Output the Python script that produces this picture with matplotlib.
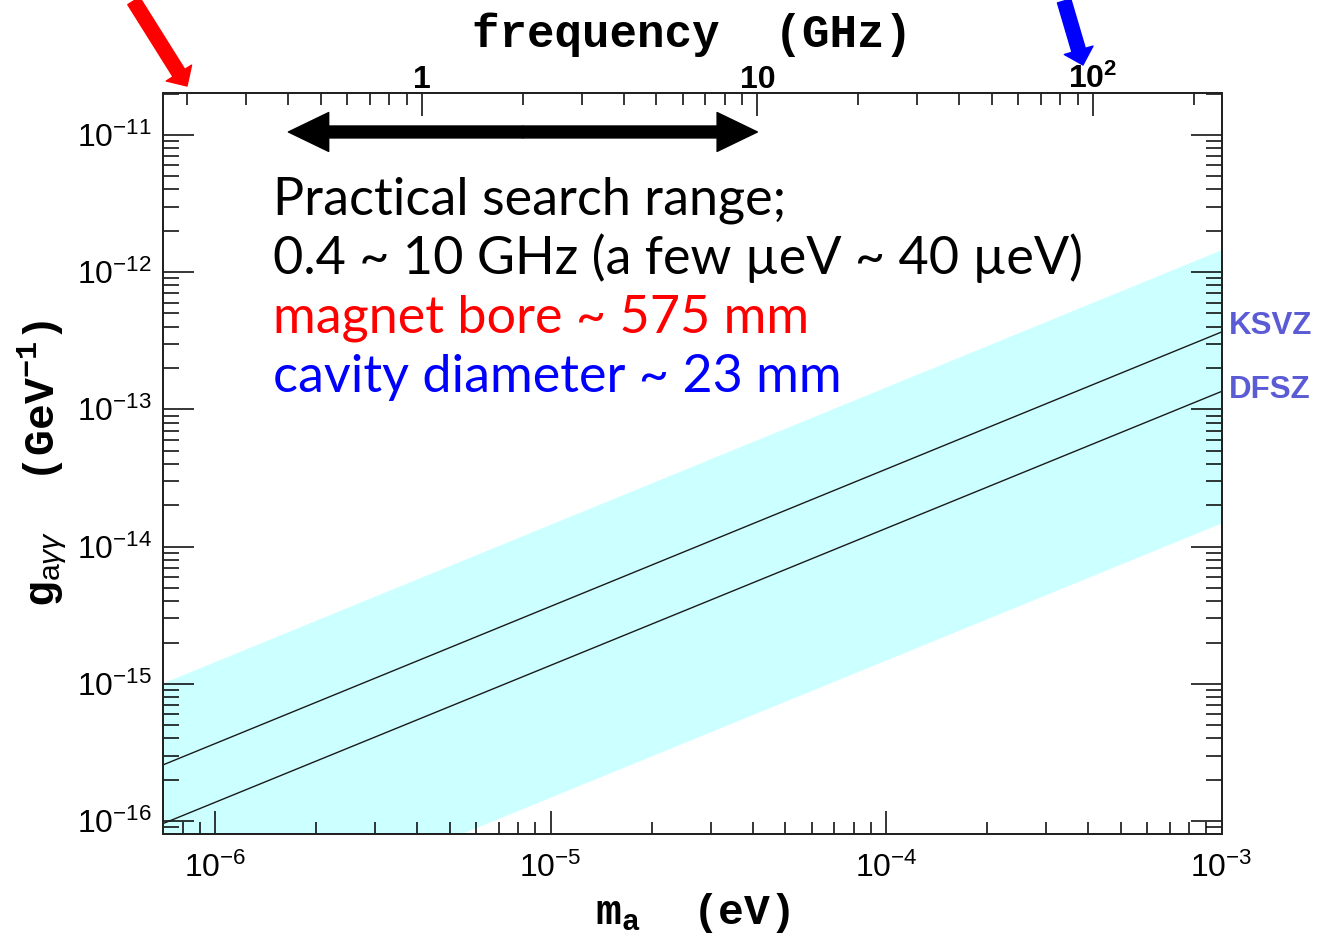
import numpy as np
import matplotlib
matplotlib.use("Agg")
import matplotlib.pyplot as plt
from matplotlib.patches import FancyArrowPatch
from matplotlib.ticker import LogLocator, NullFormatter

plt.rcParams['font.family'] = ['Liberation Sans', 'DejaVu Sans']
plt.rcParams['mathtext.fontset'] = 'custom'
plt.rcParams['mathtext.rm'] = 'Liberation Sans'
plt.rcParams['mathtext.it'] = 'Liberation Sans:italic'
plt.rcParams['mathtext.bf'] = 'Liberation Mono:bold'

# ---- data -------------------------------------------------------------
mass_range = [7.01e-7, 1.0e-3]          # axion mass, eV (plot span)
ksvz = [2.57e-16, 3.66e-13]             # g_agg at the mass_range ends, GeV^-1
dfsz = [9.6e-17, 1.35e-13]
band_upper = [1.02e-15, 1.46e-12]
band_lower = [1.05e-17, 1.49e-14]
g_limits = [8.0e-17, 2.03e-11]
ghz_per_ev = 2.418e5                    # photon frequency per eV of mass
search_range_ghz = [0.4, 10.0]
search_arrow_g = 1.05e-11
freq_ticks = [1, 10, 100]
freq_labels = ['1', '10', r'$\mathdefault{10^{2}}$']
model_names = ['KSVZ', 'DFSZ']
notes = ['Practical search range;',
         '0.4 ~ 10 GHz (a few \u00b5eV ~ 40 \u00b5eV)',
         'magnet bore ~ 575 mm',
         'cavity diameter ~ 23 mm']
note_colors = ['black', 'black', '#ff0000', '#0000ff']

# ---- figure -----------------------------------------------------------
fig = plt.figure(figsize=(13.17, 9.40), dpi=100)
ax = fig.add_axes([0.124, 0.1124, 0.8035, 0.789])

ax.set_xscale('log')
ax.set_yscale('log')
ax.set_xlim(mass_range[0], mass_range[-1])
ax.set_ylim(g_limits[0], g_limits[-1])

ax.fill_between(mass_range, band_lower, band_upper, color='#ccffff',
                lw=0, zorder=1)
ax.plot(mass_range, ksvz, color='#1a1a1a', lw=1.0, zorder=2)
ax.plot(mass_range, dfsz, color='#1a1a1a', lw=1.0, zorder=2)

for name, vals, dy in zip(model_names, [ksvz, dfsz], [4.0, 0.7]):
    ax.annotate(name, xy=(mass_range[-1], vals[-1]), xytext=(5, dy),
                textcoords='offset points', ha='left', va='center',
                fontsize=22.5, fontweight='bold', color='#5b5bd6',
                annotation_clip=False)

# axis ticks
for axis in (ax.xaxis, ax.yaxis):
    axis.set_major_locator(LogLocator(base=10, numticks=100))
    axis.set_minor_locator(LogLocator(base=10, subs=np.arange(2, 10),
                                      numticks=100))
    axis.set_minor_formatter(NullFormatter())

ax.tick_params(axis='x', which='both', direction='in', top=False,
               bottom=True, width=1.1, labelsize=23, pad=13)
ax.tick_params(axis='x', which='major', length=16.5)
ax.tick_params(axis='x', which='minor', length=8.4)
ax.tick_params(axis='y', which='both', direction='in', left=True,
               right=True, width=1.1, labelsize=23, pad=8)
ax.tick_params(axis='y', which='major', length=22.3)
ax.tick_params(axis='y', which='minor', length=11.3)

for sp in ax.spines.values():
    sp.set_linewidth(1.4)
    sp.set_color('#222222')

ax.set_xlabel(r'm$_{\mathbf{a}}$  (eV)', family='Liberation Mono',
              fontweight='bold', fontsize=31, labelpad=5)
ax.set_ylabel(r'g$_{\mathrm{a}\gamma\gamma}$  (GeV$^{\mathbf{-1}}$)',
              family='Liberation Mono', fontweight='bold', fontsize=31,
              labelpad=5)

# frequency axis on top
ax2 = ax.twiny()
ax2.set_xscale('log')
ax2.set_xlim(mass_range[0] * ghz_per_ev, mass_range[-1] * ghz_per_ev)
ax2.set_xticks(freq_ticks, labels=freq_labels, fontweight='bold')
ax2.xaxis.set_minor_locator(LogLocator(base=10, subs=np.arange(2, 10),
                                       numticks=100))
ax2.xaxis.set_minor_formatter(NullFormatter())
ax2.tick_params(axis='x', which='both', direction='in', top=True,
                bottom=False, width=1.1, labelsize=23, pad=-2)
ax2.tick_params(axis='x', which='major', length=16.5)
ax2.tick_params(axis='x', which='minor', length=8.4)
for sp in ax2.spines.values():
    sp.set_linewidth(1.4)
    sp.set_color('#222222')
ax2.set_xlabel('frequency  (GHz)', family='Liberation Mono',
               fontweight='bold', fontsize=33, labelpad=12)

# practical search range arrow (double headed)
mid = np.sqrt(search_range_ghz[0] * search_range_ghz[1])
for end in search_range_ghz:
    ax2.add_patch(FancyArrowPatch(
        (mid, search_arrow_g), (end, search_arrow_g),
        transform=ax2.transData,
        arrowstyle='simple,head_length=2.9,head_width=2.8,tail_width=0.86',
        mutation_scale=10, color='black', shrinkA=0, shrinkB=0,
        clip_on=False, zorder=5))

# notes
ys = [0.8351, 0.7555, 0.676, 0.5964]
for txt, col, y in zip(notes, note_colors, ys):
    ax.text(0.1037, y, txt, transform=ax.transAxes, color=col,
            fontsize=37.5, family=['Lato', 'DejaVu Sans'],
            ha='left', va='baseline', zorder=5)

# pointer arrows coming in from the top edge
pointer_style = 'simple,head_length=1.1,head_width=2.15,tail_width=1.0'
fig.add_artist(FancyArrowPatch((0.1015, 0.999), (0.142, 0.9085),
                               transform=fig.transFigure,
                               arrowstyle=pointer_style, mutation_scale=10,
                               color='#ff0000', shrinkA=0, shrinkB=0))
fig.add_artist(FancyArrowPatch((0.8080, 0.999), (0.8223, 0.9309),
                               transform=fig.transFigure,
                               arrowstyle=pointer_style, mutation_scale=10,
                               color='#0000ff', shrinkA=0, shrinkB=0))

fig.savefig('out.png', dpi=100)
